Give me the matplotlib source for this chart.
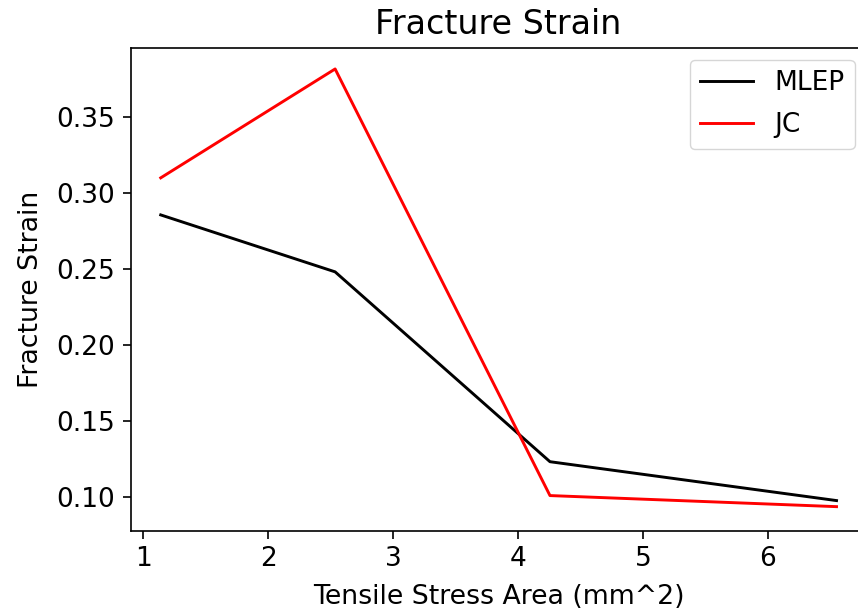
import matplotlib
matplotlib.use('Agg')
import matplotlib.pyplot as plt

area = [1.14, 2.536, 4.256, 6.55]
mlep = [0.2855, 0.248, 0.123, 0.0974]
jc = [0.3099, 0.3816, 0.1007, 0.0934]

plt.rcParams['font.family'] = 'DejaVu Sans'
fig = plt.figure(figsize=(8.58, 6.12), dpi=100)
# axes runs a bit past the right edge, like the cropped original
ax = fig.add_axes([130.5 / 858, 81.5 / 612, 736 / 858, 482.5 / 612])

ax.plot(area, mlep, color='k', lw=2.1, label='MLEP')
ax.plot(area, jc, color='r', lw=2.1, label='JC')
ax.set_xlim(0.898, 6.79)
ax.set_ylim(0.0777, 0.3954)

ax.set_title('Fracture Strain', fontsize=24, pad=10)
ax.set_xlabel('Tensile Stress Area (mm^2)', fontsize=19.3, labelpad=9)
ax.set_ylabel('Fracture Strain', fontsize=19.3, labelpad=9)
ax.tick_params(labelsize=19, length=5.8, width=1.2, pad=5)
for s in ax.spines.values():
    s.set_linewidth(1.2)
ax.spines['right'].set_visible(False)
ax.legend(fontsize=19, loc='upper right', labelspacing=0.6, borderaxespad=0.45)

fig.savefig('out.png', dpi=100)
